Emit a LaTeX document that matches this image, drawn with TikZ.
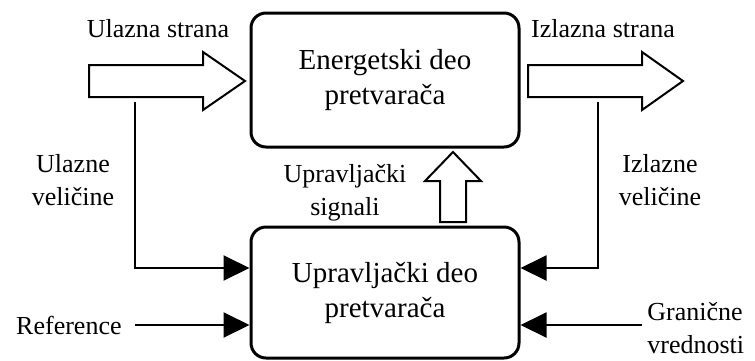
\documentclass[tikz,border=0pt]{standalone}
\usepackage{fontspec}
\setmainfont{Liberation Serif}
\usetikzlibrary{arrows.meta}
\begin{document}
\begin{tikzpicture}[x=0.5pt,y=-0.5pt,
  block/.style={draw, line width=1.5pt, rounded corners=7.5pt,
    minimum width=134pt, align=center,
    font=\fontsize{14.5}{17.5}\selectfont},
  lbl/.style={align=center, inner sep=0pt, font=\fontsize{13}{16.5}\selectfont},
  bigarrow/.style={draw, line width=1pt, line join=miter, fill=white},
  sig/.style={line width=1pt, -{Triangle[length=13pt,width=12.5pt]}}]
\useasboundingbox (0,0) rectangle (755,360);

% converter blocks
\node[block, minimum height=67pt] (power) at (385,80) {Energetski deo\\pretvarača};
\node[block, minimum height=65.5pt] (ctrl) at (385,292.5) {Upravljački deo\\pretvarača};

% energy flow: input and output block arrows
\draw[bigarrow] (89,65) -- (203,65) -- (203,52) -- (245,81) -- (203,110)
  -- (203,97) -- (89,97) -- cycle;
\draw[bigarrow] (528,65) -- (642,65) -- (642,52) -- (683,81) -- (642,110)
  -- (642,97) -- (528,97) -- cycle;
\node[lbl] (inlbl) at (158,29) {Ulazna strana};
\node[lbl] (outlbl) at (603,29) {Izlazna strana};

% control signals block arrow
\draw[bigarrow] (440,222) -- (440,181) -- (425,181) -- (453,152) -- (481,181)
  -- (466,181) -- (466,222) -- cycle;
\node[lbl] (sigl) at (345,193) {Upravljački\\signali};

% measured quantities
\coordinate (inTap) at (135,102);
\coordinate (outTap) at (598,102);
\draw[sig] (inTap) |- (ctrl.west |- 0,268);
\draw[sig] (outTap) |- (ctrl.east |- 0,268);
\node[lbl] (inq) at (73,180) {Ulazne\\veličine};
\node[lbl] (outq) at (660,180) {Izlazne\\veličine};

% reference and limit values
\node[lbl, anchor=east] (ref) at (122,325) {Reference};
\node[lbl, align=left, anchor=west] (lim) at (647,328) {Granične\\vrednosti};
\coordinate (refStart) at (135,325);
\draw[sig] (refStart) -- (ctrl.west |- refStart);
\coordinate (limStart) at (642,325);
\draw[sig] (limStart) -- (ctrl.east |- limStart);
\end{tikzpicture}
\end{document}
